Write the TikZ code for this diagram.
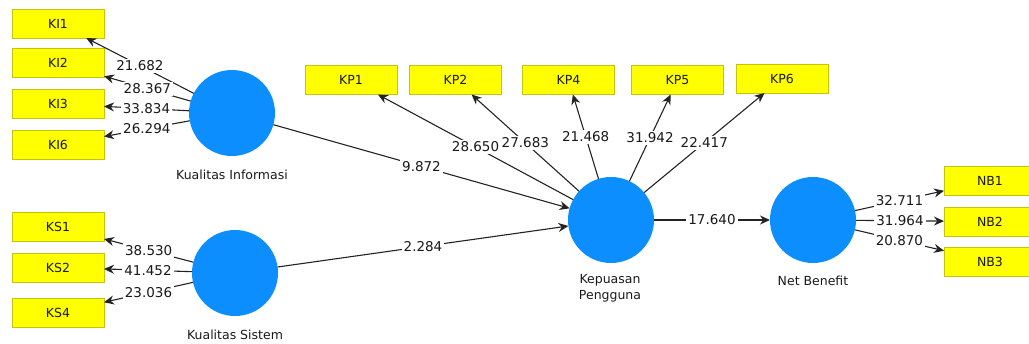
\documentclass[tikz,border=0pt]{standalone}
\usepackage{fontspec}
\setmainfont{DejaVu Sans}
\usetikzlibrary{arrows.meta}

\definecolor{lvblue}{RGB}{12,142,255}
\definecolor{mvyellow}{RGB}{255,255,0}
\definecolor{mvedge}{RGB}{195,195,20}
\definecolor{linkgray}{RGB}{35,35,35}

\tikzset{
  mv/.style     = {draw=mvedge, fill=mvyellow, line width=0.8pt,
                   minimum width=92pt, minimum height=29pt,
                   inner sep=0pt, outer sep=0pt, text=black!90,
                   font=\fontsize{12.5}{14}\selectfont},
  lv/.style     = {circle, fill=lvblue, minimum size=86pt,
                   inner sep=0pt, outer sep=0pt},
  lvname/.style = {align=center, inner sep=0pt, text=black!90,
                   font=\fontsize{12.5}{16}\selectfont},
  coef/.style   = {fill=white, inner sep=2pt, text=black!90,
                   font=\fontsize{13.5}{15}\selectfont},
  link/.style   = {draw=linkgray, line width=1.1pt}
}

\begin{document}
\begin{tikzpicture}[x=1pt, y=-1pt, >={Stealth[length=10pt,width=9pt]}]
  \useasboundingbox (0,0) rectangle (1029,343);

  % indicators
  \node[mv] (KI1) at (58,23.5)  {KI1};
  \node[mv] (KI2) at (58,63)    {KI2};
  \node[mv] (KI3) at (58,104)   {KI3};
  \node[mv] (KI6) at (58,145)   {KI6};

  \node[mv] (KS1) at (58,227)   {KS1};
  \node[mv] (KS2) at (58,267.5) {KS2};
  \node[mv] (KS4) at (58,312.5) {KS4};

  \node[mv] (KP1) at (351,80)   {KP1};
  \node[mv] (KP2) at (455.5,80) {KP2};
  \node[mv] (KP4) at (568.5,80) {KP4};
  \node[mv] (KP5) at (677.5,80) {KP5};
  \node[mv] (KP6) at (782,78.5) {KP6};

  \node[mv] (NB1) at (990,180.5) {NB1};
  \node[mv] (NB2) at (990,221.5) {NB2};
  \node[mv] (NB3) at (990,261.5) {NB3};

  % constructs
  \node[lv] (ki) at (232,113) {};
  \node[lv] (ks) at (235,273) {};
  \node[lv] (kp) at (611,220) {};
  \node[lv] (nb) at (813,220) {};

  \node[lvname, anchor=base]  (kiname) at (232,179) {Kualitas Informasi};
  \node[lvname, anchor=base]  (ksname) at (235,339) {Kualitas Sistem};
  \node[lvname, anchor=north] (kpname) at (610,274) {Kepuasan\\Pengguna};
  \node[lvname, anchor=base]  (nbname) at (813,285) {Net Benefit};

  % outer model
  \draw [link,->] (ki) to node [coef] {21.682} (KI1);
  \draw [link,->] (ki) to node [coef] {28.367} (KI2);
  \draw [link,->] (ki) to node [coef] {33.834} (KI3);
  \draw [link,->] (ki) to node [coef] {26.294} (KI6);

  \draw [link,->] (ks) to node [coef] {38.530} (KS1);
  \draw [link,->] (ks) to node [coef] {41.452} (KS2);
  \draw [link,->] (ks) to node [coef] {23.036} (KS4);

  \draw [link,->] (kp) to node [coef] {28.650} (KP1);
  \draw [link,->] (kp) to node [coef] {27.683} (KP2);
  \draw [link,->] (kp) to node [coef] {21.468} (KP4);
  \draw [link,->] (kp) to node [coef] {31.942} (KP5);
  \draw [link,->] (kp) to node [coef] {22.417} (KP6);

  \draw [link,->] (nb) to node [coef] {32.711} (NB1);
  \draw [link,->] (nb) to node [coef] {31.964} (NB2);
  \draw [link,->] (nb) to node [coef] {20.870} (NB3);

  % inner model
  \draw [link,->] (ki) to node [coef] {9.872}  (kp);
  \draw [link,->] (ks) to node [coef] {2.284}  (kp);
  \draw [link,->] (kp) to node [coef] {17.640} (nb);
\end{tikzpicture}
\end{document}
